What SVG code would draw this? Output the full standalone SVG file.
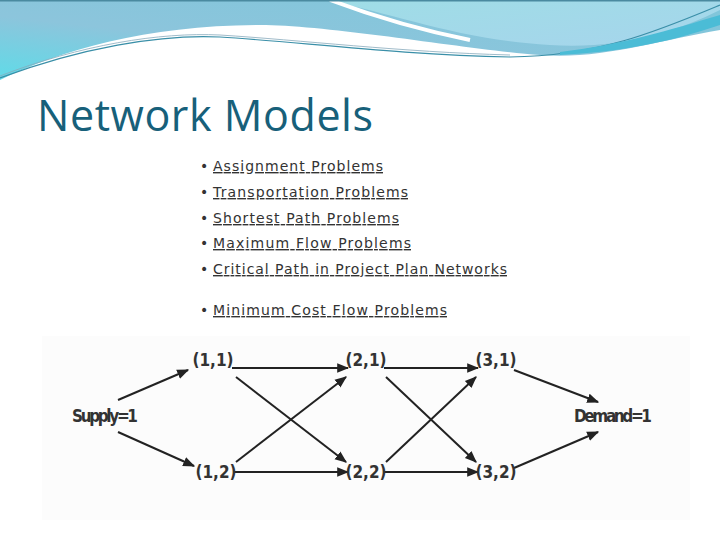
<svg xmlns="http://www.w3.org/2000/svg" width="720" height="540" viewBox="0 0 720 540">
<defs>
<linearGradient id="g1" x1="0" y1="1" x2="1" y2="0"><stop offset="0" stop-color="#5fdbe8"/><stop offset="0.4" stop-color="#8cc5dc"/><stop offset="1" stop-color="#7fc6da"/></linearGradient>
<linearGradient id="g2" x1="0" y1="0" x2="1" y2="1"><stop offset="0" stop-color="#9fdde6"/><stop offset="1" stop-color="#a6d5ec"/></linearGradient>
<marker id="ah" viewBox="0 0 10 10" refX="9" refY="5" markerWidth="6" markerHeight="6" orient="auto"><path d="M0,1 L10,5 L0,9 z" fill="#222"/></marker>
<style>
.lbl{font-family:"DejaVu Sans Condensed","Liberation Sans Narrow",sans-serif;font-size:17px;fill:#333;font-weight:bold}
.bul{font-family:"DejaVu Sans",sans-serif;font-size:14px;fill:#333}
.lnk{text-decoration:underline}
.e{stroke:#222;stroke-width:2;fill:none;marker-end:url(#ah)}
</style>
</defs>
<rect width="720" height="540" fill="#fff"/>
<g id="header">
<path d="M0,0 H720 V30 C660,40 600,60 540,55 C470,50 330,25 260,25 C150,25 60,50 0,80 Z" fill="url(#g1)"/>
<path d="M325,0 H720 V10 C680,30 620,50 550,45 C460,40 400,15 325,0 Z" fill="url(#g2)"/>
<path d="M330,0 C370,15 420,30 470,40" stroke="#fff" stroke-width="4" fill="none"/>
<path d="M0,78 C80,48 160,34 220,37 C300,42 400,55 510,57 C600,56 660,30 720,5" stroke="#3a8fa8" stroke-width="1.2" fill="none"/>
<path d="M0,76 C80,45 160,32 220,35 C300,40 400,52 510,55" stroke="#8ab" stroke-width="0.8" fill="none"/>
<path d="M560,52 C620,45 670,30 720,15 V25 C670,42 620,52 560,55 Z" fill="#4bbcd6"/>
<rect x="0" y="0" width="720" height="1.5" fill="#4a8aa0"/>
</g>
<text x="37" y="131" font-family="'Open Sans','Liberation Sans',sans-serif" font-size="43" fill="#17607a" textLength="336">Network Models</text>
<g id="bullets" class="bul">
<text x="200" y="171">•<tspan class="lnk" x="213" textLength="170">Assignment Problems</tspan></text>
<text x="200" y="197">•<tspan class="lnk" x="213" textLength="195">Transportation Problems</tspan></text>
<text x="200" y="223">•<tspan class="lnk" x="213" textLength="186">Shortest Path Problems</tspan></text>
<text x="200" y="248">•<tspan class="lnk" x="213" textLength="198">Maximum Flow Problems</tspan></text>
<text x="200" y="274">•<tspan class="lnk" x="213" textLength="294">Critical Path in Project Plan Networks</tspan></text>
<text x="200" y="315">•<tspan class="lnk" x="213" textLength="234">Minimum Cost Flow Problems</tspan></text>
</g>
<rect x="42" y="336" width="648" height="184" fill="#fcfcfc"/>
<g id="connectors">
<path class="e" d="M118,400 L188,370"/>
<path class="e" d="M118,432 L194,466"/>
<path class="e" d="M232,368 L348,368"/>
<path class="e" d="M384,368 L478,368"/>
<path class="e" d="M234,472 L348,472"/>
<path class="e" d="M384,472 L478,472"/>
<path class="e" d="M236,377 L346,462"/>
<path class="e" d="M236,462 L346,377"/>
<path class="e" d="M386,377 L476,462"/>
<path class="e" d="M386,462 L476,377"/>
<path class="e" d="M514,370 L598,402"/>
<path class="e" d="M514,468 L598,432"/>
</g>
<g id="supply"><text class="lbl" x="72" y="422" textLength="66">Supply=1</text></g>
<g id="n11"><text class="lbl" x="213" y="366" text-anchor="middle">(1,1)</text></g>
<g id="n21"><text class="lbl" x="366" y="366" text-anchor="middle">(2,1)</text></g>
<g id="n31"><text class="lbl" x="496" y="366" text-anchor="middle">(3,1)</text></g>
<g id="n12"><text class="lbl" x="216" y="478" text-anchor="middle">(1,2)</text></g>
<g id="n22"><text class="lbl" x="366" y="478" text-anchor="middle">(2,2)</text></g>
<g id="n32"><text class="lbl" x="496" y="478" text-anchor="middle">(3,2)</text></g>
<g id="demand"><text class="lbl" x="574" y="422" textLength="78">Demand=1</text></g>
</svg>
